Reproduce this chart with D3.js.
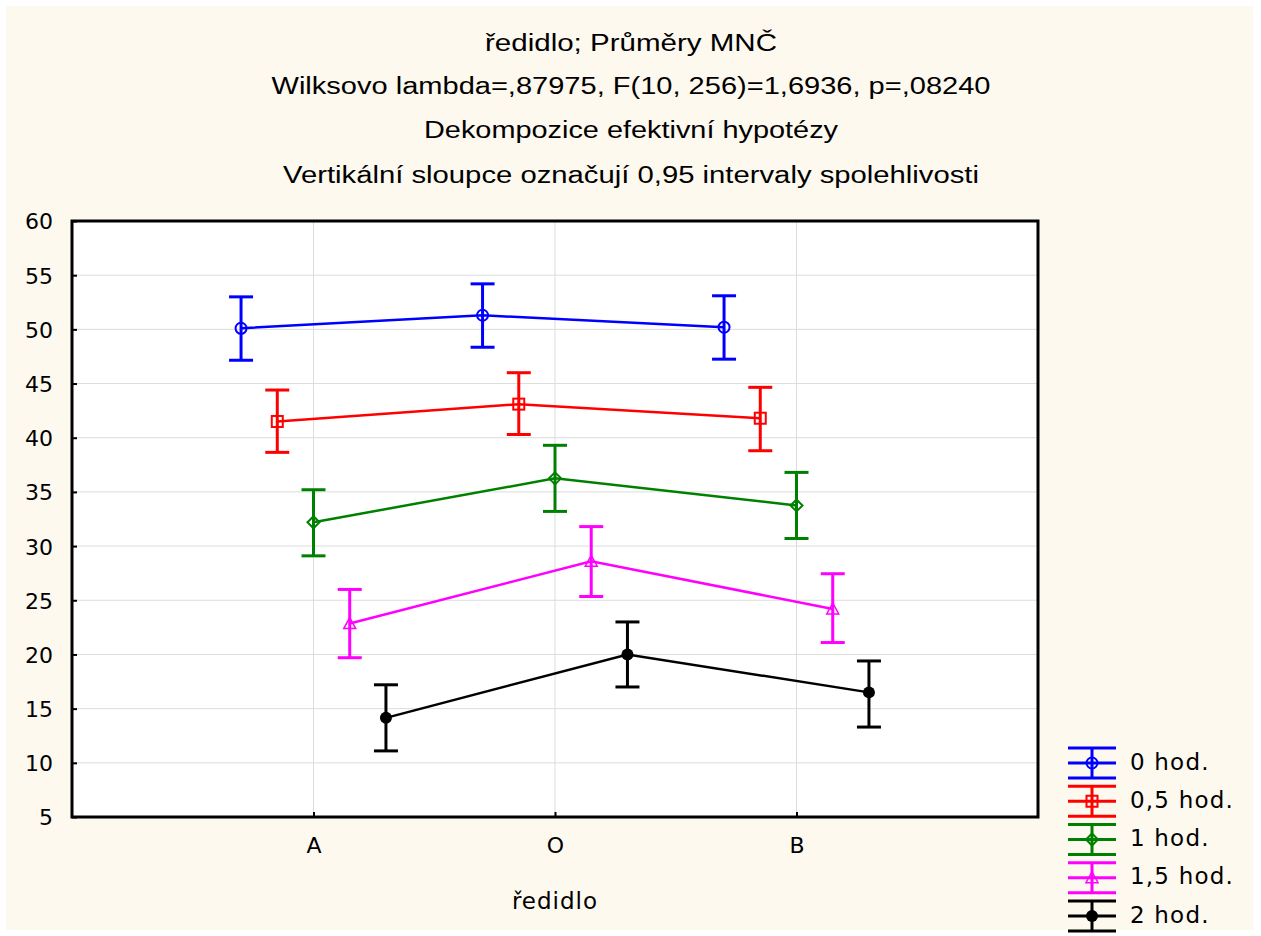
<!DOCTYPE html>
<html><head><meta charset="utf-8">
<script src="https://cdn.jsdelivr.net/npm/d3@7"></script>
<style>body{margin:0;background:#fff}svg{display:block}</style>
</head><body>
<svg id="c" width="1261" height="936"></svg>
<script>
const categories = ["A", "O", "B"];
const seriesNames = ["0 hod.", "0,5 hod.", "1 hod.", "1,5 hod.", "2 hod."];
const seriesColors = ["#0000ff", "#ff0000", "#008000", "#ff00ff", "#000000"];
const seriesMarkers = ["circle", "square", "diamond", "triangle", "dot"];
const yTicks = [5, 10, 15, 20, 25, 30, 35, 40, 45, 50, 55, 60];
const titleLines = [
  "ředidlo; Průměry MNČ",
  "Wilksovo lambda=,87975, F(10, 256)=1,6936, p=,08240",
  "Dekompozice efektivní hypotézy",
  "Vertikální sloupce označují 0,95 intervaly spolehlivosti"
];
const xTitle = "ředidlo";

const hod0 = [50.1, 51.3, 50.2];
const hod0Lo = [47.15, 48.35, 47.25];
const hod0Hi = [53.0, 54.2, 53.1];
const hod05 = [41.5, 43.1, 41.8];
const hod05Lo = [38.65, 40.3, 38.8];
const hod05Hi = [44.4, 46.0, 44.65];
const hod1 = [32.2, 36.25, 33.75];
const hod1Lo = [29.1, 33.2, 30.7];
const hod1Hi = [35.2, 39.3, 36.8];
const hod15 = [22.85, 28.6, 24.2];
const hod15Lo = [19.7, 25.35, 21.1];
const hod15Hi = [26.0, 31.8, 27.45];
const hod2 = [14.15, 20.0, 16.5];
const hod2Lo = [11.1, 17.0, 13.3];
const hod2Hi = [17.2, 23.0, 19.4];

const means = [hod0, hod05, hod1, hod15, hod2];
const lows = [hod0Lo, hod05Lo, hod1Lo, hod15Lo, hod2Lo];
const highs = [hod0Hi, hod05Hi, hod1Hi, hod15Hi, hod2Hi];

const svg = d3.select("#c");
const L = 72, R = 1038, T = 221, B = 817;
const FONT = "'Liberation Sans', Arial, sans-serif";
const FONT2 = "'DejaVu Sans', Verdana, sans-serif";

svg.append("rect").attr("x", 6).attr("y", 6).attr("width", 1247).attr("height", 924).attr("fill", "#fdf9ef");

const x = d3.scalePoint().domain(categories).range([L, R]).padding(1);
const y = d3.scaleLinear().domain([5, 60]).range([B, T]);
const offStep = x.step() * 0.15;
const sx = (si, ci) => x(categories[ci]) + (si - 2) * offStep;

// titles
const titleY = [45, 88, 132, 177];
const titleW = [292, 719, 414, 696];
titleLines.forEach((t, i) => {
  svg.append("text").attr("x", 631).attr("y", titleY[i]).attr("text-anchor", "middle")
    .attr("dominant-baseline", "middle").attr("font-family", FONT).attr("font-size", 23)
    .attr("textLength", titleW[i]).attr("lengthAdjust", "spacingAndGlyphs")
    .attr("fill", "#000").text(t);
});

// plot area
svg.append("rect").attr("x", L).attr("y", T).attr("width", R - L).attr("height", B - T).attr("fill", "#fff");

// grid
svg.append("g").selectAll("line").data(yTicks.filter(v => v > 5 && v < 60)).join("line")
  .attr("x1", L).attr("x2", R).attr("y1", d => y(d)).attr("y2", d => y(d))
  .attr("stroke", "#dcdcdc").attr("stroke-width", 1);
svg.append("g").selectAll("line").data(categories).join("line")
  .attr("x1", d => x(d)).attr("x2", d => x(d)).attr("y1", T).attr("y2", B)
  .attr("stroke", "#dcdcdc").attr("stroke-width", 1);

// axes
const yAxis = d3.axisLeft(y).tickValues(yTicks).tickSize(-5).tickPadding(19);
const gy = svg.append("g").attr("transform", `translate(${L},0)`).call(yAxis);
const xAxis = d3.axisBottom(x).tickSize(-5).tickPadding(20);
const gx = svg.append("g").attr("transform", `translate(0,${B})`).call(xAxis);
[gy, gx].forEach(g => {
  g.select(".domain").remove();
  g.selectAll(".tick line").attr("stroke", "#000").attr("stroke-width", 2);
  g.selectAll("text").attr("font-family", FONT2).attr("font-size", 22).attr("fill", "#000");
});
gy.selectAll("text").attr("dy", "0.36em");

// frame
svg.append("rect").attr("x", L).attr("y", T).attr("width", R - L).attr("height", B - T)
  .attr("fill", "none").attr("stroke", "#000").attr("stroke-width", 3);

// x title
svg.append("text").attr("x", x("O")).attr("y", 902).attr("text-anchor", "middle")
  .attr("dominant-baseline", "middle").attr("font-family", FONT2).attr("font-size", 23)
  .attr("letter-spacing", 1).text(xTitle);

function drawMarker(g, type, cx, cy, color) {
  const sw = 2;
  if (type === "circle") {
    g.append("circle").attr("cx", cx).attr("cy", cy).attr("r", 5.5).attr("fill", "none").attr("stroke", color).attr("stroke-width", sw);
  } else if (type === "square") {
    g.append("rect").attr("x", cx - 5.5).attr("y", cy - 5.5).attr("width", 11).attr("height", 11).attr("fill", "none").attr("stroke", color).attr("stroke-width", sw);
  } else if (type === "diamond") {
    g.append("path").attr("d", `M${cx},${cy - 6}L${cx + 6},${cy}L${cx},${cy + 6}L${cx - 6},${cy}Z`).attr("fill", "none").attr("stroke", color).attr("stroke-width", sw);
  } else if (type === "triangle") {
    g.append("path").attr("d", `M${cx},${cy - 6}L${cx + 6},${cy + 5}L${cx - 6},${cy + 5}Z`).attr("fill", "none").attr("stroke", color).attr("stroke-width", 1.5);
  } else {
    g.append("circle").attr("cx", cx).attr("cy", cy).attr("r", 6).attr("fill", color);
  }
}

// series
seriesNames.forEach((name, si) => {
  const color = seriesColors[si];
  const g = svg.append("g");
  const line = d3.line().x((d, ci) => sx(si, ci)).y(d => y(d));
  g.append("path").attr("d", line(means[si])).attr("fill", "none").attr("stroke", color).attr("stroke-width", 2.5);
  means[si].forEach((m, ci) => {
    const cx = sx(si, ci);
    const ylo = y(lows[si][ci]), yhi = y(highs[si][ci]);
    g.append("line").attr("x1", cx).attr("x2", cx).attr("y1", yhi).attr("y2", ylo).attr("stroke", color).attr("stroke-width", 3);
    [ylo, yhi].forEach(yy => g.append("line").attr("x1", cx - 12).attr("x2", cx + 12).attr("y1", yy).attr("y2", yy).attr("stroke", color).attr("stroke-width", 3));
    drawMarker(g, seriesMarkers[si], cx, y(m), color);
  });
});

// legend
const legY0 = 763, legStep = 38.25, lx1 = 1068, lx2 = 1116;
seriesNames.forEach((name, si) => {
  const color = seriesColors[si];
  const cy = legY0 + si * legStep;
  const cx = (lx1 + lx2) / 2;
  const g = svg.append("g");
  [cy - 15, cy, cy + 15].forEach(yy => g.append("line").attr("x1", lx1).attr("x2", lx2).attr("y1", yy).attr("y2", yy).attr("stroke", color).attr("stroke-width", 3));
  g.append("line").attr("x1", cx).attr("x2", cx).attr("y1", cy - 15).attr("y2", cy + 15).attr("stroke", color).attr("stroke-width", 3);
  drawMarker(g, seriesMarkers[si], cx, cy, color);
  g.append("text").attr("x", 1130).attr("y", cy).attr("dominant-baseline", "middle")
    .attr("font-family", FONT2).attr("font-size", 23).attr("letter-spacing", 1.2)
    .attr("fill", "#000").text(name);
});
</script>
</body></html>
